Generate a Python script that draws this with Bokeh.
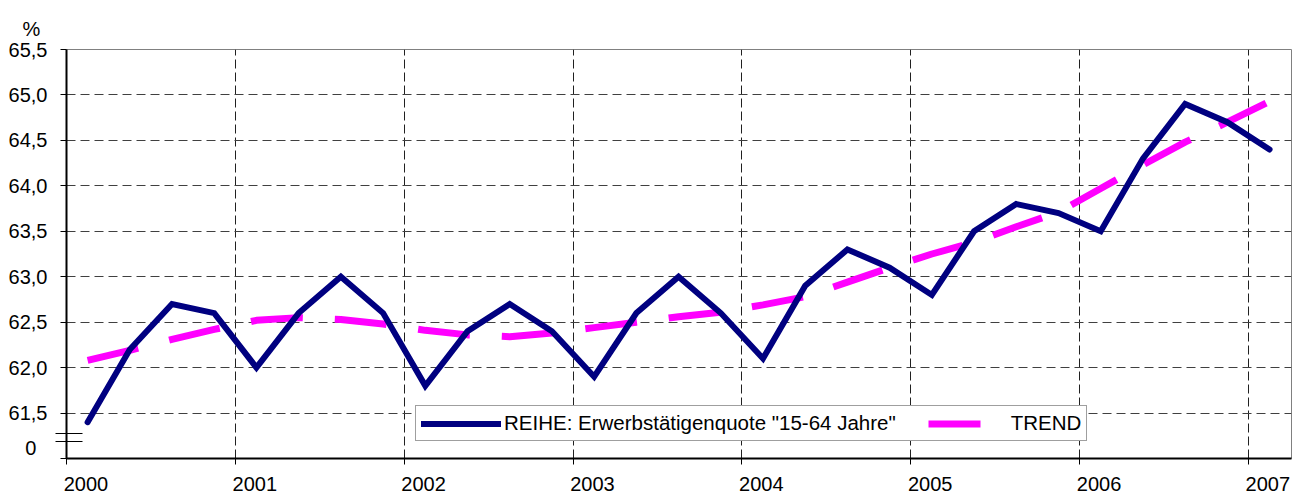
from bokeh.plotting import figure
from bokeh.models import FixedTicker, Legend, LegendItem, LinearAxis, Range1d, Title
from bokeh.embed import file_html
from bokeh.resources import INLINE

# ---- data -------------------------------------------------------------
years = [2000, 2001, 2002, 2003, 2004, 2005, 2006, 2007]
quarters = [f"{y} Q{q}" for y in years[:-1] for q in (1, 2, 3, 4)] + ["2007 Q1"]

series = [61.4, 62.2, 62.7, 62.6,
          62.0, 62.6, 63.0, 62.6,
          61.8, 62.4, 62.7, 62.4,
          61.9, 62.6, 63.0, 62.6,
          62.1, 62.9, 63.3, 63.1,
          62.8, 63.5, 63.8, 63.7,
          63.5, 64.3, 64.9, 64.7,
          64.4]

trend = [62.08, 62.19, 62.31, 62.42,
         62.52, 62.55, 62.53, 62.48,
         62.41, 62.36, 62.34, 62.38,
         62.44, 62.50, 62.56, 62.61,
         62.69, 62.78, 62.94, 63.10,
         63.25, 63.38, 63.55, 63.71,
         63.97, 64.23, 64.48, 64.70,
         64.93]

y_ticks = [61.0, 61.5, 62.0, 62.5, 63.0, 63.5, 64.0, 64.5, 65.0, 65.5]
y_label_ticks = [61.12, 61.5, 62.0, 62.5, 63.0, 63.5, 64.0, 64.5, 65.0, 65.5]
y_tick_labels = ["0\u00a0\u00a0", "61,5", "62,0", "62,5", "63,0", "63,5",
                 "64,0", "64,5", "65,0", "65,5"]
x_tick_labels = [str(y) for y in years]
break_marks = [61.19, 61.28]
unit_label = "%"

series_name = 'REIHE: Erwerbstätigenquote "15-64 Jahre"'
trend_name = "TREND"

# quarter positions (middle of each quarter)
x = [int(s[:4]) + (int(s[-1]) - 1) * 0.25 + 0.125 for s in quarters]
# year labels sit just right of their tick (text starts at the tick)
x_label_pos = [y + 0.115 for y in years]

FONT = "Liberation Sans"

p = figure(frame_width=1225, frame_height=409,
           x_range=Range1d(2000, 2007.255), y_range=Range1d(61.0, 65.5),
           output_backend="svg", toolbar_location=None, title=None,
           min_border_left=66, min_border_right=12, min_border_top=49, min_border_bottom=41,
           background_fill_color="white", border_fill_color="white")

r_trend = p.line(x, trend, line_color="#FF00FF", line_width=7,
                 line_dash="52 32", line_cap="butt")
r_series = p.line(x, series, line_color="#000080", line_width=6,
                  line_join="miter", line_cap="round")

# ---- x axis: inner axis with line and ticks -------------------------------
xa = p.xaxis[0]
xa.ticker = FixedTicker(ticks=years)
xa.major_label_overrides = {y: "" for y in years}
xa.major_label_standoff = 0
xa.axis_line_color = "black"
xa.axis_line_width = 2
xa.major_tick_line_color = "black"
xa.major_tick_in = 0
xa.major_tick_out = 6
xa.minor_tick_line_color = None
xa.minor_tick_out = 0
xa.minor_tick_in = 0

# ---- x axis: outer axis with the year labels ------------------------------
xlab = LinearAxis(ticker=FixedTicker(ticks=x_label_pos),
                  major_label_overrides={t: l for t, l in zip(x_label_pos, x_tick_labels)},
                  axis_line_color=None, major_tick_line_color=None,
                  minor_tick_line_color=None, major_tick_out=0, major_tick_in=0,
                  minor_tick_out=0, minor_tick_in=0,
                  major_label_standoff=12,
                  major_label_text_font=FONT, major_label_text_font_size="20px",
                  major_label_text_color="black")
p.add_layout(xlab, "below")

# ---- y axis: inner axis with the line, ticks and the break marks ---------
ya = p.yaxis[0]
ya.ticker = FixedTicker(ticks=y_ticks, minor_ticks=break_marks)
ya.major_label_overrides = {t: "" for t in y_ticks}
ya.major_label_standoff = 0
ya.axis_line_color = "black"
ya.axis_line_width = 2
ya.major_tick_line_color = "black"
ya.major_tick_in = 0
ya.major_tick_out = 6
ya.minor_tick_line_color = "black"
ya.minor_tick_line_width = 1
ya.minor_tick_in = 16
ya.minor_tick_out = 11

# ---- y axis: outer axis carrying only the labels -------------------------
ylab = LinearAxis(ticker=FixedTicker(ticks=y_label_ticks),
                  major_label_overrides={t: l for t, l in zip(y_label_ticks, y_tick_labels)},
                  axis_line_color=None, major_tick_line_color=None,
                  minor_tick_line_color=None, major_tick_out=0, major_tick_in=0,
                  minor_tick_out=0, minor_tick_in=0,
                  major_label_standoff=8,
                  major_label_text_font=FONT, major_label_text_font_size="20px",
                  major_label_text_color="black")
p.add_layout(ylab, "left")

p.xgrid.grid_line_color = "#202020"
p.xgrid.grid_line_dash = "9 4"
p.xgrid.grid_line_width = 1
p.xgrid.ticker = FixedTicker(ticks=years)
p.ygrid.grid_line_color = "#404040"
p.ygrid.grid_line_dash = "9 5"
p.ygrid.grid_line_width = 1
p.ygrid.ticker = FixedTicker(ticks=y_ticks)

p.outline_line_color = "#808080"
p.outline_line_width = 1

# ---- unit label above the y axis -----------------------------------------
p.add_layout(Title(text=unit_label, align="left", offset=-44, standoff=20,
                   text_font=FONT, text_font_size="20px", text_font_style="normal",
                   text_color="black"), "above")

# ---- legend ------------------------------------------------------------
legend = Legend(items=[LegendItem(label=series_name, renderers=[r_series]),
                       LegendItem(label=trend_name, renderers=[r_trend])],
                location=(349, 17), orientation="horizontal",
                glyph_width=80, glyph_height=23, label_height=23,
                label_standoff=3, spacing=32, padding=5, margin=0,
                border_line_color="#404040", border_line_width=1,
                background_fill_color="white", background_fill_alpha=1,
                label_text_font=FONT, label_text_font_size="20.5px",
                label_text_color="black")
p.add_layout(legend)

open("out.html", "w").write(file_html(p, INLINE))
